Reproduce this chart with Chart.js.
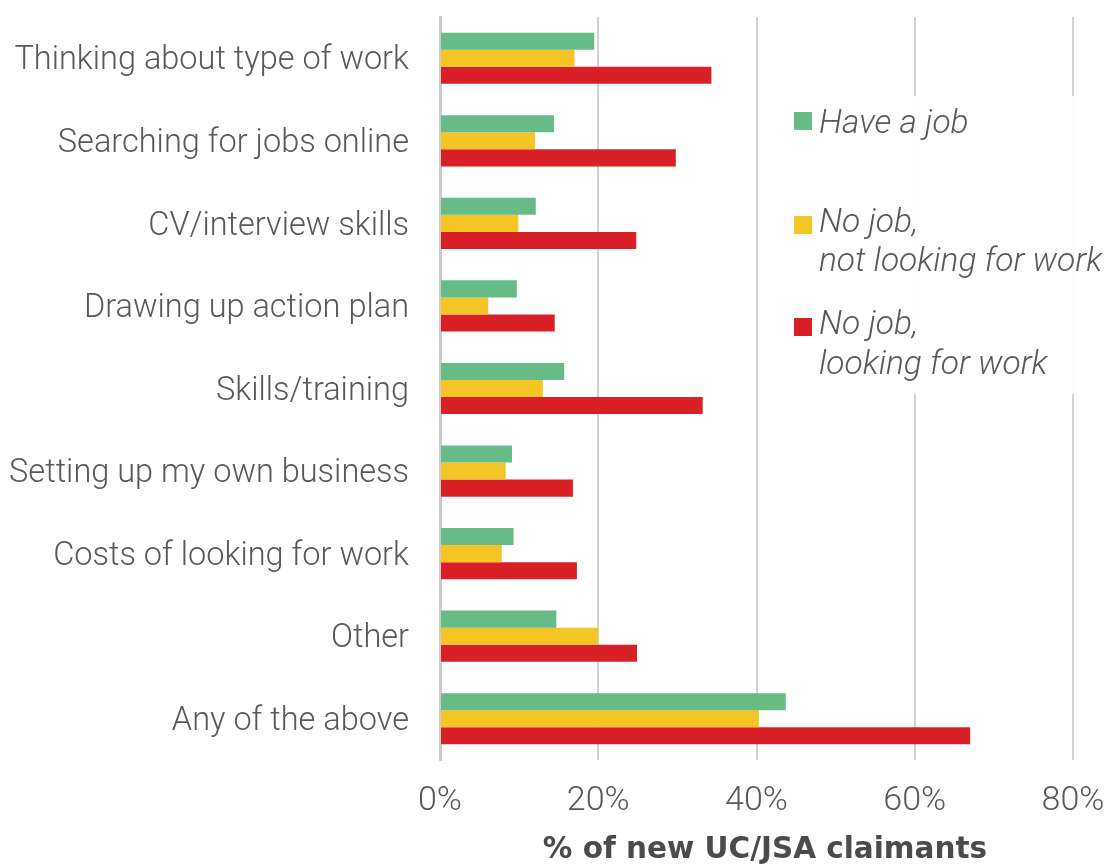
<!DOCTYPE html>
<html>
<head>
<meta charset="utf-8">
<script src="https://cdn.jsdelivr.net/npm/chart.js@4/dist/chart.umd.min.js"></script>
<style>
  html, body { margin: 0; padding: 0; background: #fff; }
  #wrap { width: 1107px; height: 864px; position: relative; }
</style>
</head>
<body>
<div id="wrap"><canvas id="c" width="1107" height="864"></canvas></div>
<script>
const categories = [
  "Thinking about type of work",
  "Searching for jobs online",
  "CV/interview skills",
  "Drawing up action plan",
  "Skills/training",
  "Setting up my own business",
  "Costs of looking for work",
  "Other",
  "Any of the above"
];
const seriesNames = ["Have a job", "No job, not looking for work", "No job, looking for work"];
const legendLines = [["Have a job"], ["No job,", "not looking for work"], ["No job,", "looking for work"]];
const haveJob = [19.5, 14.4, 12.1, 9.7, 15.7, 9.1, 9.3, 14.7, 43.7];
const noJobNotLooking = [17.0, 12.0, 9.9, 6.1, 13.0, 8.3, 7.8, 20.0, 40.3];
const noJobLooking = [34.3, 29.8, 24.8, 14.5, 33.2, 16.8, 17.3, 24.9, 67.0];
const xTicks = [0, 20, 40, 60, 80];
const axisTitle = "% of new UC/JSA claimants";

const colors = ["#67bb87", "#f4c524", "#d92027"];
const textColor = "#58595b";

const overlay = {
  id: "overlay",
  afterDraw(chart) {
    const ctx = chart.ctx;
    ctx.save();
    // legend background
    ctx.fillStyle = "rgba(255,255,255,0.9)";
    ctx.fillRect(786, 96, 321, 298);
    const boxes = [[794, 112], [794, 216], [794, 318]];
    const baselines = [[133], [232, 271], [334, 374]];
    ctx.font = "italic 300 33.5px Roboto";
    ctx.textAlign = "left";
    ctx.textBaseline = "alphabetic";
    for (let i = 0; i < 3; i++) {
      ctx.fillStyle = colors[i];
      ctx.fillRect(boxes[i][0], boxes[i][1], 18, 18);
      ctx.fillStyle = textColor;
      legendLines[i].forEach((t, j) => ctx.fillText(t, 819, baselines[i][j]));
    }
    // axis title
    ctx.font = "bold 29.5px 'DejaVu Sans'";
    ctx.fillStyle = "#4a4b4d";
    ctx.textAlign = "center";
    ctx.fillText(axisTitle, 765, 858);
    ctx.restore();
  }
};

new Chart(document.getElementById("c"), {
  type: "bar",
  data: {
    labels: categories,
    datasets: [
      { label: seriesNames[0], data: haveJob, backgroundColor: colors[0] },
      { label: seriesNames[1], data: noJobNotLooking, backgroundColor: colors[1] },
      { label: seriesNames[2], data: noJobLooking, backgroundColor: colors[2] }
    ]
  },
  options: {
    indexAxis: "y",
    responsive: false,
    animation: false,
    devicePixelRatio: 1,
    layout: { padding: { left: 0, right: 34, top: 17, bottom: 0 } },
    datasets: { bar: { categoryPercentage: 0.62, barPercentage: 1.0, borderWidth: 0 } },
    plugins: { legend: { display: false }, tooltip: { enabled: false } },
    scales: {
      x: {
        min: 0, max: 80,
        afterBuildTicks(scale) { scale.ticks = xTicks.map(v => ({ value: v })); },
        afterFit(scale) { scale.height = 104; scale.paddingLeft = 0; scale.paddingRight = 0; },
        grid: { color: "#d2d2d2", lineWidth: 2, drawTicks: false },
        border: { display: false },
        ticks: {
          padding: 21,
          color: textColor,
          font: { family: "Roboto", weight: "300", size: 34 },
          callback: v => v + "%"
        }
      },
      y: {
        afterFit(scale) { scale.width = 440; scale.paddingTop = 0; scale.paddingBottom = 0; },
        grid: { display: false, drawTicks: false },
        border: { display: true, color: "#cccccc", width: 3 },
        ticks: {
          padding: 31,
          labelOffset: 3,
          color: textColor,
          font: { family: "Roboto", weight: "300", size: 32.5 }
        }
      }
    }
  },
  plugins: [overlay]
});
</script>
</body>
</html>
